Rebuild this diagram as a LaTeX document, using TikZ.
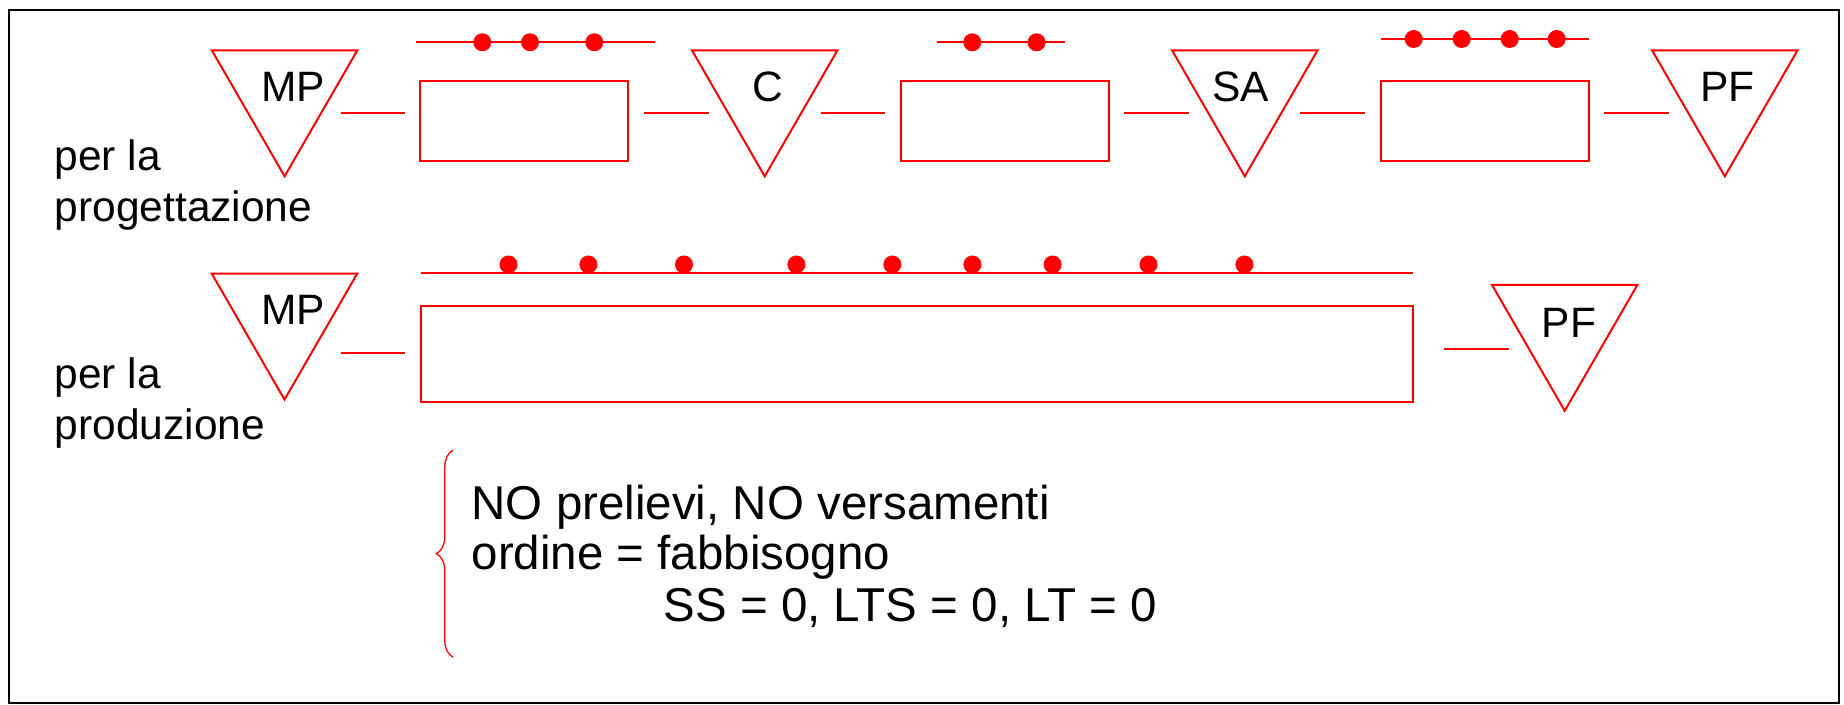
\documentclass[tikz,border=0pt]{standalone}
\usepackage{fontspec}
\setmainfont{Liberation Sans}
\usetikzlibrary{shapes.geometric,decorations.pathreplacing}
\begin{document}
\begin{tikzpicture}[x=1pt,y=-1pt,
  tri/.style={draw=red,line width=2pt,regular polygon,regular polygon sides=3,
    shape border rotate=180,minimum size=168pt,inner sep=0pt,outer sep=0pt},
  box/.style={draw=red,line width=2pt,rectangle,inner sep=0pt,outer sep=0pt,
    minimum width=208pt,minimum height=79.7pt},
  lbl/.style={inner sep=0pt,anchor=base,font=\fontsize{42.5}{51}\selectfont},
  side/.style={inner sep=0pt,anchor=base west,font=\fontsize{42.5}{51}\selectfont},
  note/.style={inner sep=0pt,anchor=base west,font=\fontsize{47.5}{51}\selectfont},
  conn/.style={draw=red,line width=2pt},
  rail/.style={draw=red,line width=2pt},
  dotmark/.style={fill=red},
  bracestyle/.style={draw=red,line width=1.3pt,decorate,decoration={brace,amplitude=17pt}}]
\useasboundingbox (0,0) rectangle (1844,704);
% frame
\draw[line width=2pt,black] (9,9.8) rectangle (1839,702.7);

% row 1 shapes
\node[tri] (mp1) at (284.6,92.3) {};
\node[tri] (c1)  at (764.7,92.3) {};
\node[tri] (sa1) at (1244.8,92.3) {};
\node[tri] (pf1) at (1724.8,92.3) {};
\node[box] (r1) at (524.4,121.2) {};
\node[box] (r2) at (1004.6,121.2) {};
\node[box] (r3) at (1484.8,121.2) {};

% row 1 labels
\node[lbl] (mpt1) at (293,101.7) {MP};
\node[lbl] (ct1)  at (768.3,101.7) {C};
\node[lbl] (sat1) at (1240.5,101.7) {SA};
\node[lbl] (pft1) at (1727.7,101.7) {PF};

% row 1 connectors
\draw[conn] (mp1.center) ++(56,21) -- ++(64.3,0);
\draw[conn] (r1.east) ++(15.7,-7.9) -- ++(65,0);
\draw[conn] (c1.center) ++(56,21) -- ++(64.6,0);
\draw[conn] (r2.east) ++(15.6,-7.9) -- ++(65,0);
\draw[conn] (sa1.center) ++(55.5,21) -- ++(64.7,0);
\draw[conn] (r3.east) ++(15.3,-7.9) -- ++(64.5,0);

% row 1 rails with dots
\draw[rail] (415.7,42.3) -- (655,42.3);
\foreach \x in {482.3,530,594.3} \fill[dotmark] (\x,42.3) circle (9);
\draw[rail] (936.6,42.3) -- (1065.2,42.3);
\foreach \x in {972.3,1036.6} \fill[dotmark] (\x,42.3) circle (9);
\draw[rail] (1380.7,39) -- (1589,39);
\foreach \x in {1413.7,1461.7,1509.7,1556.7} \fill[dotmark] (\x,39) circle (9);

% row 2 shapes
\node[tri] (mp2) at (284.5,315.6) {};
\node[tri] (pf2) at (1564.7,326.8) {};
\node[box,minimum width=992.6pt,minimum height=96pt] (rp) at (917,353.5) {};
\node[lbl] (mpt2) at (293,324.3) {MP};
\node[lbl] (pft2) at (1569,337.7) {PF};
\draw[conn] (mp2.center) ++(56.2,37.7) -- ++(64.3,0);
\draw[conn] (rp.east) ++(30.7,-4.8) -- ++(65.3,0);
\draw[rail] (420.7,273.3) -- (1413.3,273.3);
\foreach \x in {508.5,588.4,684,796.4,892.3,972.4,1052.6,1148.5,1244.4}
  \fill[dotmark] (\x,264.5) circle (9);

% side texts
\node[side] (pl1) at (54.5,170.7) {per la};
\node[side] (pg1) at (54.5,221.7) {progettazione};
\node[side] (pl2) at (54.5,388.3) {per la};
\node[side] (pd2) at (54.5,439.3) {produzione};

% note with brace
\coordinate (bb) at (453.3,657.3);
\coordinate (bt) at (453.3,450);
\draw[bracestyle] (bb) -- (bt);
\node[note] (n1) at (471.4,519) {NO prelievi, NO versamenti};
\node[note] (n2) at (471.4,569.3) {ordine = fabbisogno};
\node[note] (n3) at (663.5,621.7) {SS = 0, LTS = 0, LT = 0};
\end{tikzpicture}
\end{document}
